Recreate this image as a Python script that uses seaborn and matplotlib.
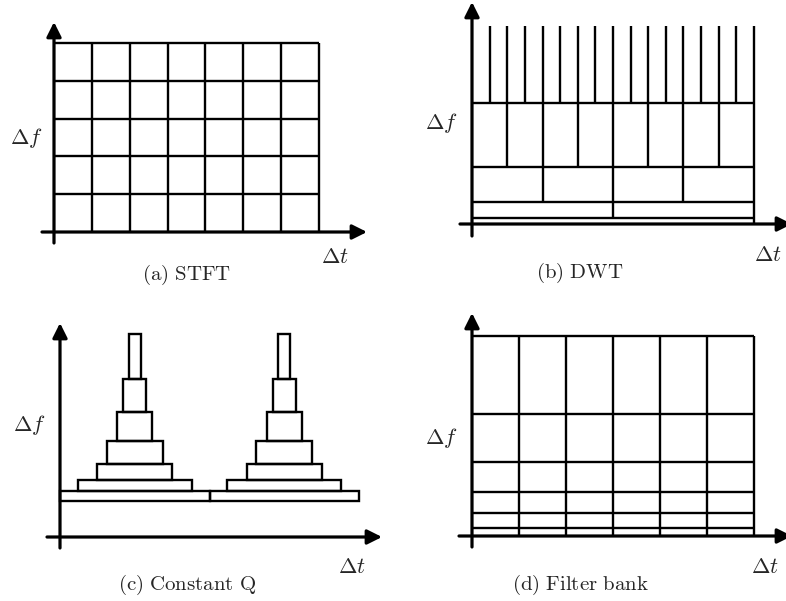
import matplotlib
matplotlib.use("Agg")
import matplotlib.pyplot as plt
from matplotlib.patches import Rectangle
import seaborn as sns

# ---------------- data ----------------
# (a) STFT: uniform tiling
stft_n_time = 7
stft_n_freq = 5

# (b) DWT: dyadic bands (relative freq edges) and number of time cells per band
dwt_band_edges = [0.0, 0.03, 0.11, 0.29, 0.61, 1.0]
dwt_divisions = [1, 2, 4, 8, 16]

# (c) Constant Q: base bar, two pyramids
cq_base_freq = [0.36, 0.46]
cq_base_split = [0.0, 0.5, 1.0]
cq_centers = [0.25, 0.75]
cq_level_widths = [0.38, 0.25, 0.187, 0.117, 0.077, 0.04]
cq_level_edges = [0.46, 0.57, 0.73, 0.96, 1.25, 1.58, 2.03]

# (d) Filter bank: uniform time, non-uniform freq bands
fb_n_time = 6
fb_freq_edges = [0.0, 0.04, 0.115, 0.22, 0.37, 0.61, 1.0]

captions = ["(a) STFT", "(b) DWT", "(c) Constant Q", "(d) Filter bank"]

# ---------------- style ----------------
sns.set_theme(style="white")
plt.rcParams["mathtext.fontset"] = "cm"
plt.rcParams["font.family"] = ["DejaVu Serif"]

W, H = 786, 601
fig = plt.figure(figsize=(W / 100, H / 100), dpi=100)
fig.patch.set_facecolor("white")

GRID_LW = 1.7
AXIS_LW = 2.3


def panel_axes(origin, sx, sy, box):
    x0, y0 = origin
    left, top, right, bottom = box
    ax = fig.add_axes([left / W, 1 - bottom / H, (right - left) / W, (bottom - top) / H])
    ax.set_xlim((left - x0) / sx, (right - x0) / sx)
    ax.set_ylim((y0 - bottom) / sy, (y0 - top) / sy)
    ax.axis("off")
    ax.patch.set_alpha(0)
    # axes with arrows
    xl, yl = ax.get_xlim(), ax.get_ylim()
    ap = dict(arrowstyle="-|>,head_length=0.4,head_width=0.2", color="black",
              lw=AXIS_LW, mutation_scale=22, shrinkA=0, shrinkB=0)
    ax.annotate("", xy=(xl[1], 0), xytext=(xl[0], 0), arrowprops=ap,
                annotation_clip=False, zorder=5)
    ax.annotate("", xy=(0, yl[1]), xytext=(0, yl[0]), arrowprops=ap,
                annotation_clip=False, zorder=5)
    return ax


def labels(df_pos, dt_pos, cap_pos, cap):
    fig.text(df_pos[0] / W, 1 - df_pos[1] / H, r"$\Delta f$", fontsize=16,
             ha="center", va="center")
    fig.text(dt_pos[0] / W, 1 - dt_pos[1] / H, r"$\Delta t$", fontsize=16,
             ha="center", va="center")
    fig.text(cap_pos[0] / W, 1 - cap_pos[1] / H,
             r"$\mathrm{" + cap.replace(" ", r"\ ") + "}$", fontsize=15,
             ha="center", va="center")


# ---------------- (a) STFT ----------------
ax = panel_axes((54, 232), 265 / stft_n_time, 189 / stft_n_freq, (42, 22, 367, 243))
for i in range(1, stft_n_time + 1):
    ax.vlines(i, 0, stft_n_freq, color="black", lw=GRID_LW)
for j in range(1, stft_n_freq + 1):
    ax.hlines(j, 0, stft_n_time, color="black", lw=GRID_LW)
labels((26, 138), (335, 257), (187, 275), captions[0])

# ---------------- (b) DWT ----------------
ax = panel_axes((472, 224), 282, 198, (460, 2, 792, 236))
for b, n in enumerate(dwt_divisions):
    lo, hi = dwt_band_edges[b], dwt_band_edges[b + 1]
    if b < len(dwt_divisions) - 1:
        ax.hlines(hi, 0, 1, color="black", lw=GRID_LW)
    for k in range(1, n + 1):
        ax.vlines(k / n, lo, hi, color="black", lw=GRID_LW)
labels((441, 123), (768, 255), (580, 273), captions[1])

# ---------------- (c) Constant Q ----------------
ax = panel_axes((60, 537), 299, 100, (47, 323, 382, 548))
for a, b in zip(cq_base_split[:-1], cq_base_split[1:]):
    ax.add_patch(Rectangle((a, cq_base_freq[0]), b - a, cq_base_freq[1] - cq_base_freq[0],
                           fill=False, ec="black", lw=GRID_LW))
for c in cq_centers:
    for lvl, w in enumerate(cq_level_widths):
        lo, hi = cq_level_edges[lvl], cq_level_edges[lvl + 1]
        ax.add_patch(Rectangle((c - w / 2, lo), w, hi - lo, fill=False,
                               ec="black", lw=GRID_LW))
labels((29, 425), (352, 567), (187, 585), captions[2])

# ---------------- (d) Filter bank ----------------
ax = panel_axes((472, 536), 282 / fb_n_time, 200, (459, 313, 792, 547))
for i in range(1, fb_n_time + 1):
    ax.vlines(i, 0, fb_freq_edges[-1], color="black", lw=GRID_LW)
for e in fb_freq_edges[1:]:
    ax.hlines(e, 0, fb_n_time, color="black", lw=GRID_LW)
labels((441, 438), (765, 567), (580, 585), captions[3])

fig.savefig("out.png", dpi=100, facecolor="white")
